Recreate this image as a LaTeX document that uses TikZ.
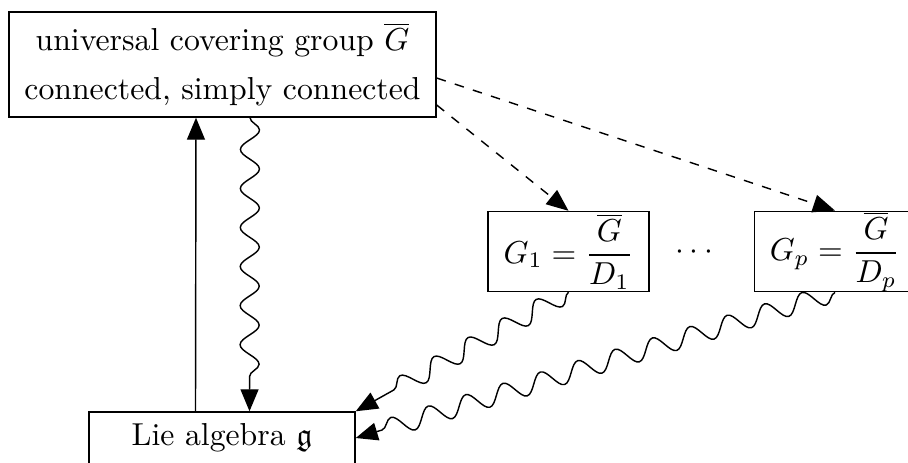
\documentclass[tikz,border=0pt]{standalone}
\usepackage{amsmath,amssymb}
\usetikzlibrary{arrows.meta,decorations.pathmorphing}
\begin{document}
\begin{tikzpicture}[x=0.315pt,y=-0.315pt, line width=0.45pt,
  box/.style={draw, inner sep=0pt, align=center},
  tip/.style={-{Triangle[length=6.93pt,width=5.67pt]}},
  wavy/.style={decorate, decoration={snake, amplitude=3pt, segment length=12.3pt, post length=7.6pt}}]
\clip (0,0) rectangle (908,462);
\node[box, minimum width=134.5pt, minimum height=33.08pt] (top) at (222.5,64.5)
  {universal covering group $\overline{G}$\\[3.5pt] connected, simply connected};
\node[box, minimum width=83.8pt, minimum height=16.4pt] (bot) at (222,438) {Lie algebra $\mathfrak{g}$};
\node[box, minimum width=50.7pt, minimum height=25.2pt] (g1) at (568.5,251.5) {$G_1 = \dfrac{\overline{G}}{D_1}$};
\node[box, minimum width=50.7pt, minimum height=25.2pt] (gp) at (835,251.5) {$G_p = \dfrac{\overline{G}}{D_p}$};
\node (dots) at (697,252) {$\cdots$};
\draw[tip] ([xshift=-8.35pt]bot.north) -- ([xshift=-8.35pt]top.south);
\draw[tip, wavy] ([xshift=8.66pt]top.south) -- ([xshift=8.66pt]bot.north);
\draw[tip, dashed] ([yshift=-4.25pt]top.east) -- (gp.north);
\draw[tip, dashed] ([yshift=-12.76pt]top.east) -- (g1.north);
\draw[tip, wavy] (g1.south) -- (bot.north east);
\draw[tip, wavy] (gp.south) -- (bot.east);
\end{tikzpicture}
\end{document}
